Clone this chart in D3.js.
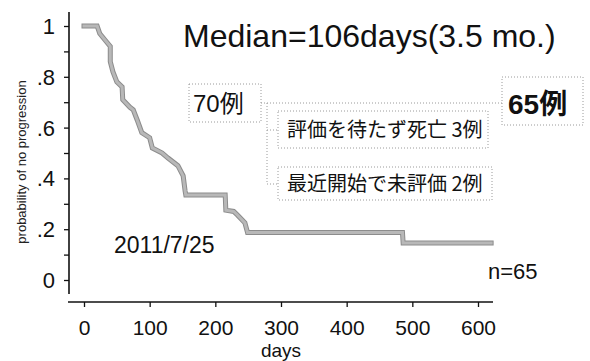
<!DOCTYPE html>
<html>
<head>
<meta charset="utf-8">
<script src="https://cdn.jsdelivr.net/npm/d3@7"></script>
<style>
  body { margin: 0; background: #fff; }
  svg { display: block; }
</style>
</head>
<body>
<svg id="chart" width="590" height="361"></svg>
<script>
// KM curve as drawn (days, probability)
var days = [0, 20, 24, 32, 40, 40, 44, 50, 58, 59, 70, 75, 81, 88, 100, 104, 119, 128, 143, 151, 154, 155, 215, 216, 228, 234, 245, 249, 485, 486, 620];
var surv = [1.0, 1.0, 0.97, 0.945, 0.92, 0.86, 0.82, 0.78, 0.76, 0.71, 0.68, 0.67, 0.63, 0.58, 0.56, 0.52, 0.50, 0.48, 0.45, 0.41, 0.35, 0.335, 0.335, 0.275, 0.27, 0.255, 0.225, 0.187, 0.187, 0.146, 0.146];

var xTicks = [0, 100, 200, 300, 400, 500, 600];
var yMinorTicks = [0, 0.1, 0.2, 0.3, 0.4, 0.5, 0.6, 0.7, 0.8, 0.9, 1];
var yTicks = [0, 0.2, 0.4, 0.6, 0.8, 1];
var yTickLabels = ["0", ".2", ".4", ".6", ".8", "1"];

var svg = d3.select("#chart");
var latin = "'Liberation Sans', Arial, 'Noto Sans CJK JP', sans-serif";
var cjk = "'Noto Sans CJK JP', sans-serif";

var x = d3.scaleLinear().domain([0, 600]).range([84, 478]);
var y = d3.scaleLinear().domain([0, 1]).range([280, 26]);

//Y axis
var yAxis = d3.axisLeft(y)
  .tickValues(yMinorTicks)
  .tickSize(5)
  .tickFormat("");
var gy = svg.append("g")
  .attr("transform", "translate(69,0)")
  .call(yAxis);
gy.select(".domain").remove();
gy.selectAll(".tick line").attr("stroke", "#111").attr("stroke-width", 1.3);
gy.append("line")
  .attr("x1", 0).attr("x2", 0)
  .attr("y1", 12).attr("y2", 294)
  .attr("stroke", "#111")
  .attr("stroke-width", 1.6);

svg.selectAll(".ylab")
  .data(yTicks)
  .enter()
  .append("text")
  .attr("class", "ylab")
  .attr("x", 55)
  .attr("y", function (d) { return y(d); })
  .attr("dy", "0.36em")
  .attr("text-anchor", "end")
  .attr("font-family", latin)
  .attr("font-size", 22)
  .attr("fill", "#111")
  .text(function (d, i) { return yTickLabels[i]; });

//X axis
var xAxis = d3.axisBottom(x)
  .tickValues(xTicks)
  .tickSize(5)
  .tickPadding(13)
  .tickFormat(d3.format("d"));
var gx = svg.append("g")
  .attr("transform", "translate(0,302)")
  .call(xAxis);
gx.select(".domain").remove();
gx.selectAll(".tick line").attr("stroke", "#111").attr("stroke-width", 1.3);
gx.selectAll(".tick text")
  .attr("font-family", latin)
  .attr("font-size", 21)
  .attr("fill", "#111");
gx.append("line")
  .attr("x1", 68).attr("x2", 493)
  .attr("y1", 0).attr("y2", 0)
  .attr("stroke", "#111")
  .attr("stroke-width", 1.6);

svg.append("text")
  .attr("x", 281)
  .attr("y", 357)
  .attr("text-anchor", "middle")
  .attr("font-family", latin)
  .attr("font-size", 19)
  .attr("fill", "#111")
  .text("days");

svg.append("text")
  .attr("transform", "translate(26,162) rotate(-90)")
  .attr("text-anchor", "middle")
  .attr("font-family", latin)
  .attr("font-size", 13)
  .attr("fill", "#222")
  .text("probability of no progression");

//Curve
var pts = days.map(function (d, i) { return [d, surv[i]]; });
var line = d3.line()
  .x(function (d) { return x(d[0]); })
  .y(function (d) { return y(d[1]); });

svg.append("path")
  .datum(pts)
  .attr("d", line)
  .attr("fill", "none")
  .attr("stroke", "#8c8c8c")
  .attr("stroke-width", 5)
  .attr("stroke-linecap", "square")
  .attr("stroke-linejoin", "miter");
svg.append("path")
  .datum(pts)
  .attr("d", line)
  .attr("fill", "none")
  .attr("stroke", "#b8b8b8")
  .attr("stroke-width", 3)
  .attr("stroke-linecap", "square");

//Annotations
svg.append("text")
  .attr("x", 183)
  .attr("y", 47)
  .attr("font-family", latin)
  .attr("font-size", 32)
  .attr("fill", "#111")
  .text("Median=106days(3.5 mo.)");

svg.append("text")
  .attr("x", 114)
  .attr("y", 253)
  .attr("font-family", latin)
  .attr("font-size", 23)
  .attr("fill", "#111")
  .text("2011/7/25");

svg.append("text")
  .attr("x", 488)
  .attr("y", 279)
  .attr("font-family", latin)
  .attr("font-size", 22)
  .attr("fill", "#111")
  .text("n=65");

// dotted boxes and bracket
var dot = { stroke: "#9a9a9a", dash: "1,2" };
function box(x0, y0, w, h) {
  svg.append("rect")
    .attr("x", x0).attr("y", y0)
    .attr("width", w).attr("height", h)
    .attr("fill", "none")
    .attr("stroke", dot.stroke)
    .attr("stroke-dasharray", dot.dash);
}
function seg(x1, y1, x2, y2) {
  svg.append("line")
    .attr("x1", x1).attr("y1", y1)
    .attr("x2", x2).attr("y2", y2)
    .attr("stroke", dot.stroke)
    .attr("stroke-dasharray", dot.dash);
}
box(189, 84, 72, 38);
box(278, 111, 210, 37);
box(278, 167, 214, 33);
box(502, 77, 81, 48);
seg(261, 103, 502, 103);
seg(267, 103, 267, 184);
seg(267, 130, 278, 130);
seg(267, 184, 278, 184);

svg.append("text")
  .attr("x", 193)
  .attr("y", 112)
  .attr("font-family", latin)
  .attr("font-size", 24)
  .attr("fill", "#111")
  .text("70例");

svg.append("text")
  .attr("x", 287)
  .attr("y", 130)
  .attr("dy", "0.36em")
  .attr("font-family", cjk)
  .attr("font-size", 20)
  .attr("fill", "#111")
  .text("評価を待たず死亡 3例");

svg.append("text")
  .attr("x", 287)
  .attr("y", 184)
  .attr("dy", "0.36em")
  .attr("font-family", cjk)
  .attr("font-size", 20)
  .attr("fill", "#111")
  .text("最近開始で未評価 2例");

svg.append("text")
  .attr("x", 508)
  .attr("y", 114)
  .attr("font-family", latin)
  .attr("font-size", 28)
  .attr("font-weight", "bold")
  .attr("fill", "#111")
  .text("65例");
</script>
</body>
</html>
